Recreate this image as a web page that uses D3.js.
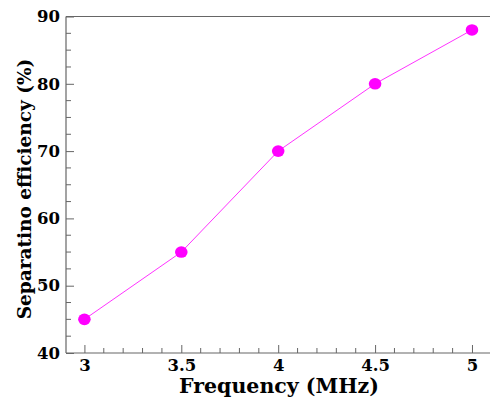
<!DOCTYPE html>
<html><head><meta charset="utf-8">
<script src="https://cdn.jsdelivr.net/npm/d3@7"></script>
<style>body{margin:0;background:#fff}svg{display:block}</style>
</head><body>
<script>
const frequency = [3, 3.5, 4, 4.5, 5];
const efficiency = [45, 55, 70, 80, 88];
const xTicks = [3, 3.5, 4, 4.5, 5];
const yTicks = [40, 50, 60, 70, 80, 90];
const xLabel = "Frequency (MHz)";
const yLabel = "Separatino efficiency (%)";

(function () {
const W = 490, H = 398;
const svg = d3.select("body").append("svg").attr("width", W).attr("height", H);
const mLeft = 66, mTop = 16.5, mBottom = 353, mRight = 490;
const x = d3.scaleLinear().domain([2.905, 5.093]).range([mLeft, mRight]);
const y = d3.scaleLinear().domain([40, 90]).range([mBottom, mTop]);
const axisColor = "#666";
const font = "'DejaVu Serif', serif";

// frame
svg.append("line").attr("x1", mLeft).attr("x2", mRight).attr("y1", mTop).attr("y2", mTop).attr("stroke", axisColor).attr("stroke-width", 1.2);

// x axis
const xMinor = d3.range(2.9, 5.1, 0.1).map(v => +v.toFixed(2)).filter(v => v > 2.91 && !xTicks.some(t => Math.abs(t - v) < 1e-6));
const gx = svg.append("g").attr("transform", `translate(0,${mBottom})`);
gx.call(d3.axisBottom(x).tickValues(xTicks).tickSize(-8).tickPadding(6).tickFormat(d3.format("")));
gx.selectAll(".minor").data(xMinor).enter().append("line").attr("class","minor")
  .attr("x1", d => x(d)).attr("x2", d => x(d)).attr("y1", 0).attr("y2", -5).attr("stroke", axisColor);
gx.select(".domain").attr("stroke", axisColor).attr("stroke-width", 1.2).attr("d", `M${mLeft},0H${mRight}`);
gx.selectAll(".tick line").attr("stroke", axisColor);
gx.selectAll("text").style("font-family", font).style("font-weight", "bold").style("font-size", "16.5px").attr("fill", "#000");

// y axis
const yMinor = d3.range(40, 90.1, 2.5).filter(v => !yTicks.includes(v));
const gy = svg.append("g").attr("transform", `translate(${mLeft},0)`);
gy.call(d3.axisLeft(y).tickValues(yTicks).tickSize(-8).tickPadding(6));
gy.selectAll(".minor").data(yMinor).enter().append("line").attr("class","minor")
  .attr("x1", 0).attr("x2", 5).attr("y1", d => y(d)).attr("y2", d => y(d)).attr("stroke", axisColor);
gy.select(".domain").attr("stroke", axisColor).attr("stroke-width", 1.2).attr("d", `M0,${mTop}V${mBottom}`);
gy.selectAll(".tick line").attr("stroke", axisColor);
gy.selectAll("text").style("font-family", font).style("font-weight", "bold").style("font-size", "16.5px").attr("fill", "#000");

// line
const data = frequency.map((f, i) => ({f, e: efficiency[i]}));
svg.append("path").datum(data)
  .attr("d", d3.line().x(d => x(d.f)).y(d => y(d.e)))
  .attr("fill", "none").attr("stroke", "#ff33ff").attr("stroke-width", 1);
svg.selectAll(".pt").data(data).enter().append("ellipse").attr("class","pt")
  .attr("cx", d => x(d.f)).attr("cy", d => y(d.e)).attr("rx", 6.3).attr("ry", 5.8)
  .attr("fill", "#ff00ff");

// titles
svg.append("text").attr("x", 279).attr("y", 393).attr("text-anchor", "middle")
  .style("font-family", font).style("font-weight", "bold").style("font-size", "20.5px").text(xLabel);
svg.append("text").attr("transform", `translate(31,189) rotate(-90)`).attr("text-anchor", "middle")
  .style("font-family", font).style("font-weight", "bold").style("font-size", "18.5px").text(yLabel);
})();
</script>
</body></html>
